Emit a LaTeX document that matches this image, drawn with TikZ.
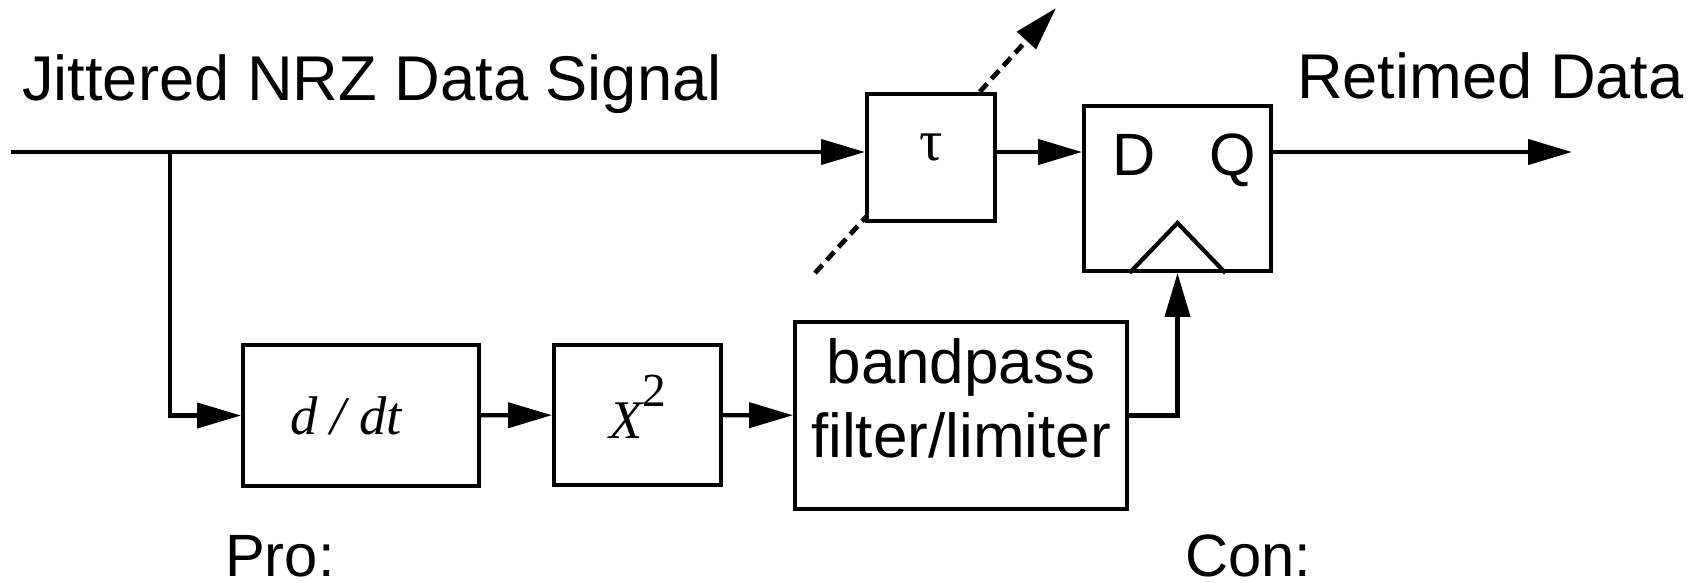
\documentclass[tikz,border=0pt]{standalone}
\usepackage{fontspec}
\setmainfont{Liberation Sans}
\newfontfamily\timesfont{Liberation Serif}
\usetikzlibrary{arrows.meta, calc}

\begin{document}
\begin{tikzpicture}[
        x=0.02cm, y=-0.02cm,
        line width=2.4pt,
        >={Triangle[length=0.88cm, width=0.5cm]},
        block/.style={draw, fill=white, inner sep=0pt},
        delay/.style={->, line width=2.7pt, dash pattern=on 0.22cm off 0.13cm},
        txt/.style={anchor=base west, inner sep=0pt},
        big/.style={font=\fontsize{36pt}{43pt}\selectfont},
        mid/.style={font=\fontsize{34pt}{41pt}\selectfont},
        serif/.style={font=\fontsize{31pt}{37pt}\selectfont\timesfont},
    ]
    \useasboundingbox (0,0) rectangle (1698,582);

    % Tuning arrow of the delay, drawn first so the box hides its middle
    \coordinate (dly-s) at (815,273);
    \coordinate (dly-e) at (1056,8);
    \draw[delay] (dly-s) -- (dly-e);

    % Data path
    \coordinate (in) at (11,152);
    \coordinate (br) at (170,152);
    \coordinate (out) at (1572,152);
    \node[block, minimum width=2.555cm, minimum height=2.535cm, text height=0.6cm, text depth=0.5cm,
          font=\fontsize{33pt}{39pt}\selectfont\timesfont] (tau) at (931,157.5) {τ};
    \node[block, minimum width=3.735cm, minimum height=3.295cm] (dq) at (1177.5,188.5) {};
    \node[txt, mid] (dq-d) at (1110,175) {D};
    \node[txt, mid] (dq-q) at (1207,175) {Q};

    % Clock recovery chain
    \node[block, serif, minimum width=4.715cm, minimum height=2.815cm] (ddt) at (361,415.5)
        {\itshape d / dt\hspace*{0.6cm}};
    \node[block, serif, minimum width=3.335cm, minimum height=2.815cm, text depth=0.32cm] (sq) at (637.5,415)
        {\itshape X\upshape\raisebox{0.64cm}{\fontsize{27pt}{27pt}\selectfont 2}};
    \node[block, align=center, minimum width=6.635cm, minimum height=3.735cm, text height=2.38cm, text depth=0.72cm,
          font=\fontsize{35.3pt}{42.1pt}\selectfont] (bp) at (961,415.5) {bandpass\\filter/limiter};

    % Labels
    \node[txt, big] (lbl-in) at (20,100) {Jittered NRZ Data Signal};
    \node[txt, big] (lbl-out) at (1295,98) {Retimed Data};
    \node[txt, mid] (pro) at (223,576) {Pro:};
    \node[txt, mid] (con) at (1183,576) {Con:};

    % Connect the blocks
    \draw[->] (in) -- (tau.west |- in);
    \draw[->] (tau.east |- in) -- (dq.west |- in);
    \draw[->] (dq.east |- in) -- (out);
    \draw[->] (br) |- (ddt.west);
    \foreach \src/\dst in {ddt/sq, sq/bp}
        \path (\src) edge[->] (\dst);
    \draw[->] (bp.east) -| (dq.south);

    % Clock input wedge
    \draw ($(dq.south)+(-48,0)$) -- ($(dq.south)+(0,-50)$) -- ($(dq.south)+(48,0)$);
\end{tikzpicture}
\end{document}
